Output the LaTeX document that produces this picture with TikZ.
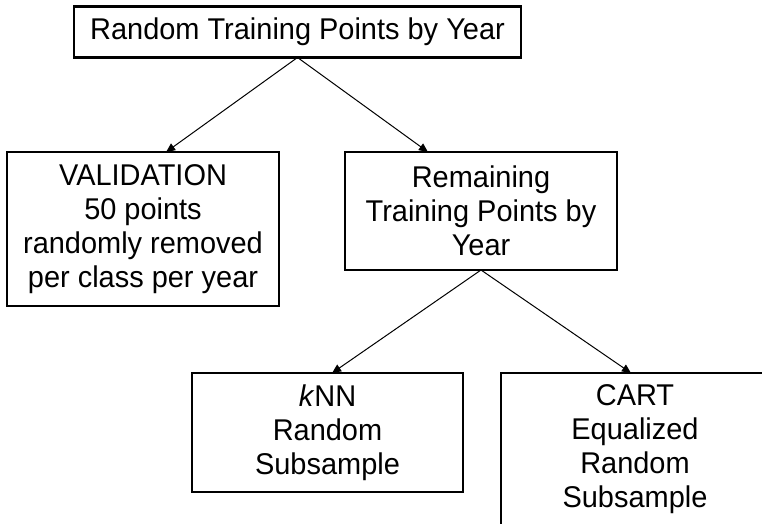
\documentclass[tikz,border=0pt]{standalone}
\usepackage{fontspec}
\setmainfont{Liberation Sans}[FakeStretch=0.965]
\usetikzlibrary{arrows.meta,calc}
\begin{document}
\begin{tikzpicture}[x=1pt,y=-1pt,
  box/.style={draw,line width=2.8pt,align=center,inner sep=0pt,outer sep=0pt,
              font=\fontsize{30}{34}\selectfont},
  link/.style={line width=1pt,-{Triangle[length=9pt,width=8pt]}}]
\useasboundingbox (0,0) rectangle (762,524);
\clip (0,0) rectangle (762,524);

% boxes
\node[box,minimum width=447pt,minimum height=51pt] (top) at (297.5,32)
  {Random Training Points by Year};
\node[box,minimum width=272pt,minimum height=154pt] (val) at (143,229)
  {VALIDATION\\50 points\\randomly removed\\per class per year};
\node[box,minimum width=272pt,minimum height=118pt] (rem) at (481,211)
  {Remaining\\Training Points by\\Year};
\node[box,minimum width=271pt,minimum height=119pt] (knn) at (327.5,432.5)
  {\textit{k}NN\\Random\\Subsample};
\node[box,minimum width=268pt,minimum height=153pt] (cart) at (635,449.5)
  {CART\\Equalized\\Random\\Subsample};

% connectors
\draw[link] (top.south) -- ($(val.north west)!0.585!(val.north east)$);
\draw[link] (top.south) -- ($(rem.north west)!0.305!(rem.north east)$);
\draw[link] (rem.south) -- ($(knn.north west)!0.517!(knn.north east)$);
\draw[link] (rem.south) -- ($(cart.north west)!0.485!(cart.north east)$);
\end{tikzpicture}
\end{document}
